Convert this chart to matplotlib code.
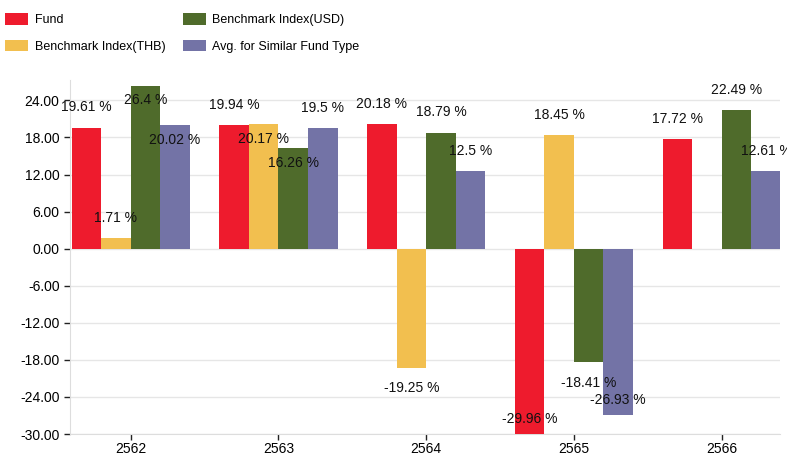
import numpy as np
import matplotlib
matplotlib.use("Agg")
import matplotlib.pyplot as plt
from matplotlib.ticker import FormatStrFormatter

plt.rcParams['font.family'] = ['Liberation Sans', 'DejaVu Sans']

years = ["2562", "2563", "2564", "2565", "2566"]
series_names = ["Fund", "Benchmark Index(THB)", "Benchmark Index(USD)", "Avg. for Similar Fund Type"]
fund = [19.61, 19.94, 20.18, -29.96, 17.72]
bench_thb = [1.71, 20.17, -19.25, 18.45, np.nan]
bench_usd = [26.4, 16.26, 18.79, -18.41, 22.49]
avg_similar = [20.02, 19.5, 12.5, -26.93, 12.61]
yticks = [-30, -24, -18, -12, -6, 0, 6, 12, 18, 24]

colors = ["#EE1B2D", "#F2BF4F", "#4F6B2B", "#7373A6"]
# label placement style: True = label drawn inside the bar end (overlap avoidance)
inside = [
    [False, False, True, True],
    [False, True, True, False],
    [False, False, False, False],
    [True, False, False, True],
    [False, False, False, False],
]

fig = plt.figure(figsize=(7.87, 4.57), dpi=100)
ax = fig.add_axes([70/787, 23/457, 710/787, 354/457])

all_series = [fund, bench_thb, bench_usd, avg_similar]
x = np.arange(len(years))
w = 0.2
for i, (vals, c, name) in enumerate(zip(all_series, colors, series_names)):
    v = np.array(vals, dtype=float)
    pos = x + (i - 1.5) * w
    ax.bar(pos, v, width=w, color=c, label=name, zorder=3, linewidth=0)
    for j, (p, val) in enumerate(zip(pos, v)):
        if np.isnan(val):
            continue
        sgn = 1 if val >= 0 else -1
        off = -10.5 * sgn if inside[j][i] else 14.5 * sgn
        ax.annotate(f"{val:g} %", (p, val), xytext=(0, off), textcoords="offset points",
                    ha="center", va="center", fontsize=10, color="#111111", zorder=5)

ax.set_xlim(-0.411, 4.395)
ax.set_ylim(-30, 27.3)
ax.set_yticks(yticks)
ax.yaxis.set_major_formatter(FormatStrFormatter("%.2f"))
ax.set_xticks(x)
ax.set_xticklabels(years)
ax.yaxis.grid(True, color="#E6E6E6", linewidth=1, zorder=0)
ax.set_axisbelow(True)
for s in ["top", "right"]:
    ax.spines[s].set_visible(False)
ax.spines["left"].set_color("#DDDDDD")
ax.spines["bottom"].set_color("#DDDDDD")
ax.tick_params(axis="y", length=4.5, width=1, color="#222222", labelsize=10, pad=3)
ax.tick_params(axis="x", length=4.5, width=1, color="#222222", labelsize=10, pad=1)

handles, labels = ax.get_legend_handles_labels()
leg = fig.legend(handles, labels, ncol=2,
                 loc="upper left", bbox_to_anchor=(5/787, 1 - 13/457), frameon=False,
                 fontsize=9, handlelength=1.85, handleheight=1.05, handletextpad=0.55,
                 columnspacing=1.35, labelspacing=1.1, borderpad=0, borderaxespad=0)

fig.savefig("out.png", dpi=100)
